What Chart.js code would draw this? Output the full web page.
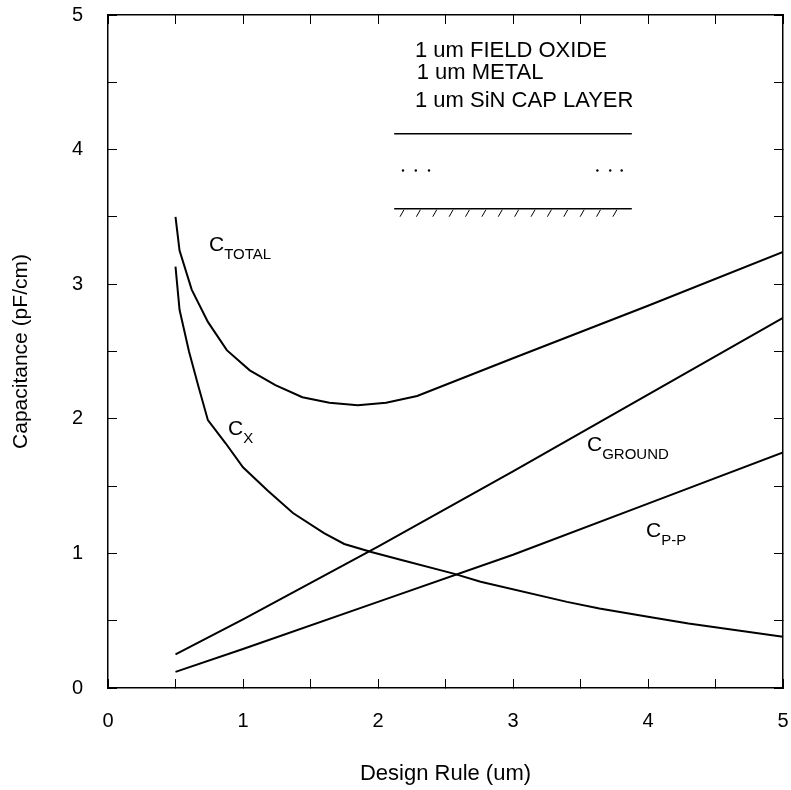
<!DOCTYPE html>
<html>
<head>
<meta charset="utf-8">
<script src="https://cdn.jsdelivr.net/npm/chart.js@4.4.0/dist/chart.umd.min.js"></script>
<style>
html, body { margin: 0; padding: 0; background: #fff; }
</style>
</head>
<body>
<canvas id="chart" width="791" height="790"></canvas>
<script>
// values (design rule in um, capacitance in pF/cm)
var totalX = [0.5, 0.53, 0.62, 0.74, 0.88, 1.05, 1.24, 1.44, 1.64, 1.85, 2.06, 2.29, 3.0, 4.0, 5.0];
var totalY = [3.50, 3.25, 2.96, 2.72, 2.51, 2.36, 2.25, 2.16, 2.12, 2.10, 2.12, 2.17, 2.45, 2.84, 3.24];

var cxX = [0.5, 0.53, 0.6, 0.67, 0.74, 0.87, 1.0, 1.18, 1.37, 1.6, 1.75, 1.95, 2.16, 2.56, 2.76, 3.4, 3.64, 4.0, 4.3, 5.0];
var cxY = [3.13, 2.81, 2.50, 2.24, 1.99, 1.82, 1.64, 1.47, 1.30, 1.15, 1.07, 1.01, 0.955, 0.85, 0.79, 0.64, 0.59, 0.53, 0.48, 0.38];

var groundX = [0.5, 1, 2, 3, 4, 5];
var groundY = [0.25, 0.51, 1.05, 1.61, 2.18, 2.75];

var ppX = [0.5, 1, 2, 3, 4, 5];
var ppY = [0.12, 0.29, 0.64, 0.99, 1.37, 1.75];

var xTicks = [0, 1, 2, 3, 4, 5];
var yTicks = [0, 1, 2, 3, 4, 5];

var notes = ['1 um FIELD OXIDE', '1 um METAL', '1 um SiN CAP LAYER'];

var FONT = "'Liberation Sans', Arial, sans-serif";

function pairs(xs, ys) {
	var out = [];
	for (var i = 0; i < xs.length; i++) out.push({x: xs[i], y: ys[i]});
	return out;
}

function line(xs, ys) {
	return {
		data: pairs(xs, ys),
		showLine: true,
		borderColor: '#000',
		borderWidth: 2,
		pointRadius: 0,
		tension: 0,
		fill: false
	};
}

// curve names, placed in data units
var curveLabels = [
	{main: 'C', sub: 'TOTAL', x: 0.748, y: 3.25},
	{main: 'C', sub: 'X', x: 0.889, y: 1.878},
	{main: 'C', sub: 'GROUND', x: 3.548, y: 1.762},
	{main: 'C', sub: 'P-P', x: 3.985, y: 1.12}
];

var sketch = {
	noteX: [2.274, 2.287, 2.274],
	noteY: [4.73, 4.568, 4.365],
	topLine: {x0: 2.12, x1: 3.88, y: 4.118},
	dots: {left: [2.185, 2.28, 2.378], right: [3.625, 3.72, 3.805], y: 3.845},
	groundLine: {x0: 2.12, x1: 3.88, y: 3.561},
	hatch: {x0: 2.163, x1: 3.74, n: 14}
};

var labelsPlugin = {
	id: 'labels',
	afterDatasetsDraw: function(chart) {
		var ctx = chart.ctx;
		var xs = chart.scales.x, ys = chart.scales.y;
		ctx.save();
		ctx.fillStyle = '#000';
		ctx.strokeStyle = '#000';
		ctx.textBaseline = 'alphabetic';
		ctx.textAlign = 'left';
		curveLabels.forEach(function(l) {
			var px = xs.getPixelForValue(l.x), py = ys.getPixelForValue(l.y);
			ctx.font = '21px ' + FONT;
			ctx.fillText(l.main, px, py);
			var w = ctx.measureText(l.main).width;
			ctx.font = '15px ' + FONT;
			ctx.fillText(l.sub, px + w, py + 8);
		});

		ctx.font = '22px ' + FONT;
		ctx.textBaseline = 'middle';
		notes.forEach(function(t, i) {
			ctx.fillText(t, xs.getPixelForValue(sketch.noteX[i]), ys.getPixelForValue(sketch.noteY[i]));
		});

		ctx.lineWidth = 1.5;
		ctx.beginPath();
		var ty = ys.getPixelForValue(sketch.topLine.y);
		ctx.moveTo(xs.getPixelForValue(sketch.topLine.x0), ty);
		ctx.lineTo(xs.getPixelForValue(sketch.topLine.x1), ty);
		var gy = ys.getPixelForValue(sketch.groundLine.y);
		ctx.moveTo(xs.getPixelForValue(sketch.groundLine.x0), gy);
		ctx.lineTo(xs.getPixelForValue(sketch.groundLine.x1), gy);
		ctx.stroke();

		ctx.lineWidth = 1;
		ctx.beginPath();
		var h = sketch.hatch;
		for (var k = 0; k < h.n; k++) {
			var hx = xs.getPixelForValue(h.x0 + (h.x1 - h.x0) * k / (h.n - 1));
			ctx.moveTo(hx, gy + 8);
			ctx.lineTo(hx + 4, gy + 1);
		}
		ctx.stroke();

		var dy = ys.getPixelForValue(sketch.dots.y);
		sketch.dots.left.concat(sketch.dots.right).forEach(function(v) {
			ctx.beginPath();
			ctx.arc(xs.getPixelForValue(v), dy, 1.2, 0, Math.PI * 2);
			ctx.fill();
		});
		ctx.restore();
	}
};

function tickCb(list) {
	return function(v) { return list.indexOf(v) >= 0 ? String(v) : ''; };
}

// the frame is sized by hand, so drop the label padding Chart.js asks for
function fixSize(w, h) {
	return function(s) {
		if (w !== null) s.width = w;
		if (h !== null) s.height = h;
		s.paddingTop = 0; s.paddingBottom = 0; s.paddingLeft = 0; s.paddingRight = 0;
	};
}

var gridOpts = {drawOnChartArea: false, tickLength: -9, color: '#000', tickWidth: 1};
var borderOpts = {display: true, color: '#000', width: 1.5};

var context = document.getElementById('chart').getContext('2d');
var chart = new Chart(context, {
	type: 'scatter',
	data: {
		datasets: [
			line(totalX, totalY),
			line(cxX, cxY),
			line(groundX, groundY),
			line(ppX, ppY)
		]
	},
	options: {
		responsive: false,
		animation: false,
		layout: {padding: {top: 15, right: 8, left: 0, bottom: 0}},
		plugins: {legend: {display: false}, tooltip: {enabled: false}},
		scales: {
			x: {
				type: 'linear', position: 'bottom', min: 0, max: 5,
				ticks: {stepSize: 0.5, autoSkip: false, maxRotation: 0, callback: tickCb(xTicks),
					color: '#000', font: {size: 20, family: FONT}, padding: 30},
				grid: gridOpts, border: borderOpts,
				title: {display: true, text: 'Design Rule (um)', color: '#000',
					font: {size: 22, family: FONT}, padding: {top: 0, bottom: 3}},
				afterFit: fixSize(null, 102)
			},
			x2: {
				type: 'linear', position: 'top', min: 0, max: 5,
				ticks: {stepSize: 0.5, display: false},
				grid: gridOpts, border: borderOpts,
				afterFit: fixSize(null, 0)
			},
			y: {
				type: 'linear', position: 'left', min: 0, max: 5,
				ticks: {stepSize: 0.5, autoSkip: false, callback: tickCb(yTicks),
					color: '#000', font: {size: 20, family: FONT}, padding: 34},
				grid: gridOpts, border: borderOpts,
				title: {display: true, text: 'Capacitance (pF/cm)', color: '#000',
					font: {size: 21, family: FONT}, padding: {top: 9, bottom: 0}},
				afterFit: fixSize(108, null)
			},
			y2: {
				type: 'linear', position: 'right', min: 0, max: 5,
				ticks: {stepSize: 0.5, display: false},
				grid: gridOpts, border: borderOpts,
				afterFit: fixSize(0, null)
			}
		}
	},
	plugins: [labelsPlugin]
});
</script>
</body>
</html>
